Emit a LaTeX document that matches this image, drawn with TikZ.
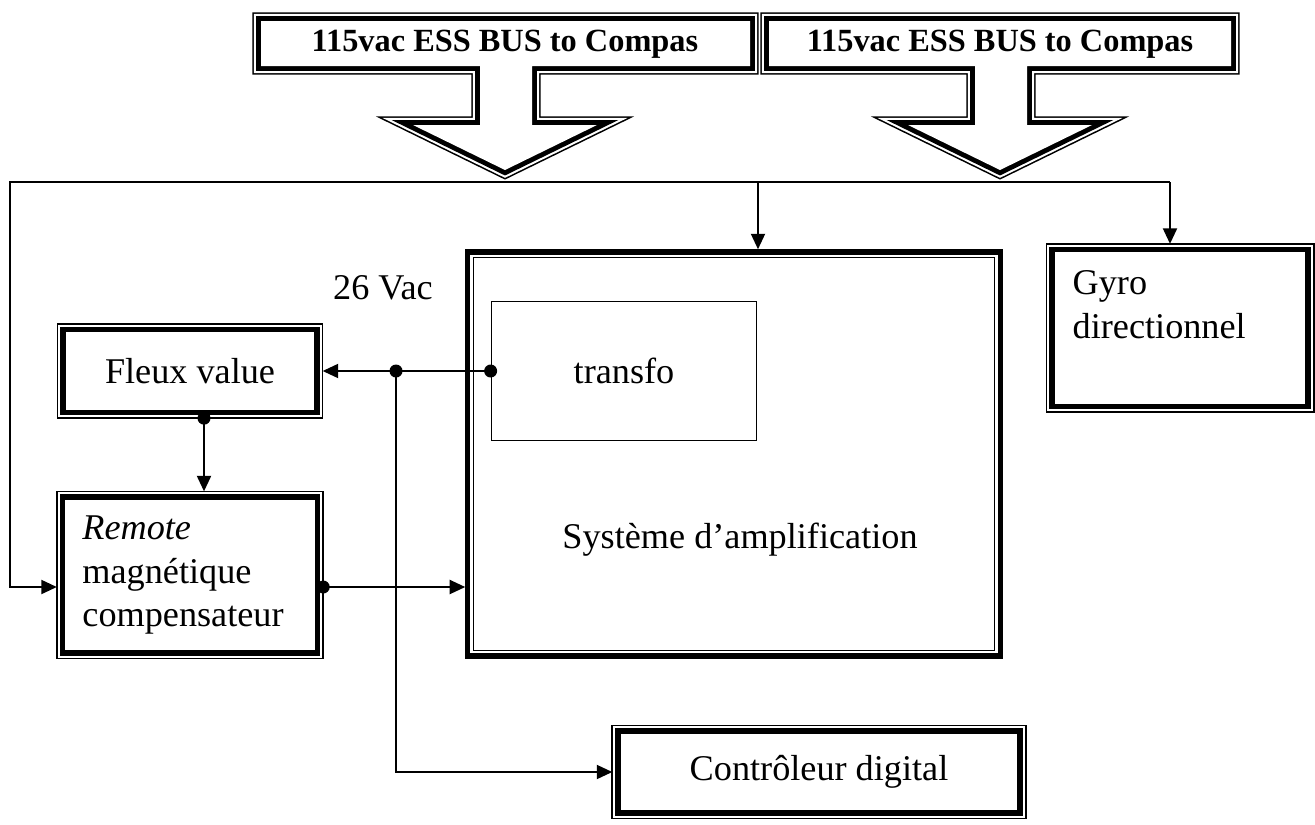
\documentclass[tikz,border=0pt]{standalone}
\usepackage{fontspec}
\setmainfont{Liberation Serif}
\usetikzlibrary{arrows.meta,positioning}
\tikzset{
  box/.style={draw, line width=1.5pt, outer sep=1.6pt, inner sep=0pt, fill=white},
  frame/.style={line width=0.45pt},
  wire/.style={line width=0.5pt},
  dot/.style={circle, fill=black, inner sep=0pt, minimum size=0.13cm},
  >={Triangle[length=4.4pt,width=4pt]},
  every node/.style={font=\fontsize{10.3}{12.4}\selectfont}
}
% banner with its arrow: #1 left, #2 right, #3 tip x
\newcommand{\busarrow}[3]{%
  \draw[line width=2.8pt, preaction={draw, line width=4.9pt},
    preaction={draw=white, line width=4pt}, postaction={fill=white}]
    (#1,21) -- (#2,21) -- (#2,66) -- ({#3+27},66) -- ({#3+27},125)
    -- ({#3+92},125) -- (#3,170) -- ({#3-92},125) -- ({#3-25},125)
    -- ({#3-25},66) -- (#1,66) -- cycle;}

\begin{document}
\begin{tikzpicture}[x=0.01cm, y=-0.01cm]
  \useasboundingbox (0,0) rectangle (1315,824);
  % Supply arrows
  \busarrow{261}{750}{505}
  \busarrow{769}{1231}{1000}
  \node[font=\bfseries\fontsize{9.2}{11}\selectfont] (bus1) at (505,44) {115vac ESS BUS to Compas};
  \node[font=\bfseries\fontsize{9.2}{11}\selectfont] (bus2) at (1000,44) {115vac ESS BUS to Compas};
  % Bus line
  \coordinate (busL) at (10,182);
  \coordinate (busR) at (1170,182);
  \coordinate (tap) at (758,182);
  % Blocks
  \node[box, minimum width=2.54cm, minimum height=0.83cm] (fleux) at (190,371) {Fleux value};
  \node[box, minimum width=2.55cm, minimum height=1.56cm, align=left, text width=2.15cm] (remote) at (190,575)
    {\textit{Remote}\\magnétique\\compensateur};
  \node[box, minimum width=2.56cm, minimum height=1.57cm] (gyro) at (1180,328) {};
  \node[anchor=north west, align=left, inner sep=0pt] (gyrotxt) at (1072,270) {Gyro\\directionnel};
  \node[draw, line width=1.5pt, outer sep=0.75pt, minimum width=5.32cm, minimum height=4.04cm] (sys) at (734,454) {};
  \draw[frame] ([shift={(2.4pt,-2.4pt)}]sys.north west) rectangle ([shift={(-2.4pt,2.4pt)}]sys.south east);
  \node (systxt) at (740,540) {Système d'amplification};
  \node[draw, line width=0.45pt, minimum width=2.65cm, minimum height=1.39cm] (transfo) at (624,371) {transfo};
  \node[box, minimum width=4.02cm, minimum height=0.82cm] (ctrl) at (819,772) {Contrôleur digital};
  \node (vac) at (383,288) {26 Vac};
  % Thin outer frames
  \foreach \n in {fleux,remote,gyro,ctrl}
    \draw[frame] (\n.south west) rectangle (\n.north east);
  % Junctions
  \node[dot] (d1) at (transfo.west) {};
  \node[dot] (d2) at (396,371) {};
  \node[dot] (d3) at ([xshift=0.14cm]fleux.south) {};
  \node[dot] (d4) at ([yshift=-0.12cm]remote.east) {};
  % Wires
  \draw[wire, ->] (d1.center) -- (fleux.east);
  \draw[wire, ->] (d2.center) |- (ctrl.west);
  \draw[wire, ->] (d3.center) -- (d3 |- remote.north);
  \draw[wire, ->] (d4.center) -- (d4 -| sys.west);
  \draw[wire, ->] (busR) -- (busL) |- (d4 -| remote.west);
  \draw[wire, ->] (tap) -- (tap |- sys.north);
  \draw[wire, ->] (busR) -- (busR |- gyro.north);
\end{tikzpicture}
\end{document}
